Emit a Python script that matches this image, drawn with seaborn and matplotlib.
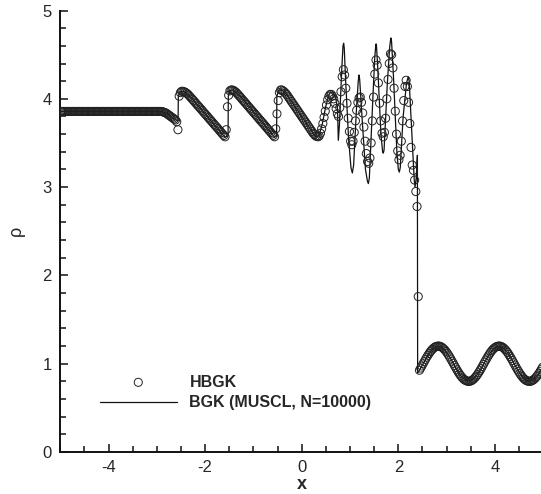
import numpy as np
import pandas as pd
import matplotlib
matplotlib.use("Agg")
import matplotlib.pyplot as plt
from matplotlib.ticker import MultipleLocator
import seaborn as sns

# ---- reference solution (BGK, MUSCL, N=10000) ----
bgk_x = [-5.0, -2.95, -2.85, -2.75, -2.68, -2.60, -2.56, -2.555, -2.53, -2.49,
         -2.43, -2.35, -2.28, -1.59, -1.525, -1.52, -1.49, -1.45, -1.40, -1.32,
         -1.25, -0.56, -0.52, -0.515, -0.48, -0.44, -0.38, -0.30, 0.25, 0.31,
         0.36, 0.42, 0.50, 0.56, 0.60, 0.65, 0.70, 0.74, 0.758, 0.78,
         0.83, 0.855, 0.868, 0.88, 0.91, 0.97, 1.02, 1.048, 1.075, 1.13,
         1.17, 1.186, 1.20, 1.25, 1.32, 1.36, 1.379, 1.40, 1.46, 1.51,
         1.535, 1.545, 1.57, 1.64, 1.675, 1.689, 1.705, 1.77, 1.82, 1.845,
         1.86, 1.90, 1.97, 2.00, 2.021, 2.04, 2.10, 2.17, 2.205, 2.225,
         2.29, 2.33, 2.346, 2.37, 2.395, 2.40, 2.45, 2.50, 2.60, 2.70,
         2.80, 2.90, 3.00, 3.10, 3.20, 3.30, 3.40, 3.50, 3.60, 3.70,
         3.80, 3.90, 4.00, 4.10, 4.20, 4.30, 4.40, 4.50, 4.60, 4.70,
         4.80, 4.90, 5.00]
bgk_rho = [3.857, 3.857, 3.85, 3.82, 3.79, 3.76, 3.75, 4.02, 4.07, 4.085,
           4.08, 4.05, 4.01, 3.565, 3.58, 4.03, 4.09, 4.10, 4.09, 4.05,
           4.02, 3.565, 3.58, 4.03, 4.09, 4.10, 4.09, 4.04, 3.60, 3.565,
           3.59, 3.70, 3.92, 4.04, 4.08, 4.06, 4.02, 3.90, 3.53, 3.70,
           4.35, 4.60, 4.63, 4.58, 4.20, 3.55, 3.22, 3.16, 3.25, 3.85,
           4.20, 4.27, 4.22, 3.78, 3.20, 3.07, 3.04, 3.10, 3.85, 4.45,
           4.62, 4.62, 4.40, 3.60, 3.40, 3.385, 3.42, 4.15, 4.58, 4.69,
           4.65, 4.25, 3.40, 3.20, 3.17, 3.22, 3.80, 4.18, 4.25, 4.20,
           3.50, 3.08, 3.00, 3.10, 3.36, 0.893, 0.938, 0.987, 1.084, 1.161,
           1.198, 1.187, 1.130, 1.041, 0.942, 0.858, 0.808, 0.805, 0.850, 0.931,
           1.030, 1.121, 1.183, 1.199, 1.167, 1.094, 0.998, 0.903, 0.831, 0.800,
           0.819, 0.882, 0.974]

# ---- HBGK solution, 400 uniform cells on [-5, 5] ----
n_cells = 400
hbgk_left = [3.857] * 84
hbgk_shocklets = [
    3.855, 3.85, 3.845, 3.84, 3.83, 3.82, 3.81, 3.80, 3.79, 3.78,
    3.77, 3.76, 3.74, 3.65, 4.03, 4.07, 4.085,
    4.085, 4.08, 4.075, 4.065, 4.055, 4.04, 4.025, 4.01,
    3.994, 3.979, 3.963, 3.947, 3.931, 3.916, 3.900, 3.884, 3.869, 3.853,
    3.837, 3.821, 3.806, 3.790, 3.774, 3.759, 3.743, 3.727, 3.711, 3.696,
    3.680, 3.664, 3.649, 3.633, 3.617, 3.60, 3.585, 3.57,
    3.65, 3.91, 4.04, 4.09, 4.10,
    4.10, 4.095, 4.085, 4.075, 4.06, 4.045, 4.03,
    4.014, 3.998, 3.982, 3.967, 3.951, 3.935, 3.919, 3.903, 3.887, 3.871,
    3.855, 3.840, 3.824, 3.808, 3.792, 3.776, 3.760, 3.744, 3.729, 3.713,
    3.697, 3.681, 3.665, 3.649, 3.633, 3.618, 3.602, 3.586, 3.57,
    3.66, 3.83, 3.98, 4.07, 4.10,
    4.10, 4.09, 4.08, 4.065, 4.05, 4.03,
    4.01, 3.99, 3.97, 3.95, 3.93, 3.91, 3.89, 3.87, 3.85, 3.83,
    3.81, 3.79, 3.77, 3.75, 3.73, 3.71, 3.69, 3.67, 3.65, 3.63,
    3.61, 3.595, 3.58, 3.575, 3.57]
hbgk_osc = [
    3.58, 3.61, 3.66, 3.72, 3.79, 3.86, 3.93, 3.99, 4.03, 4.05,
    4.05, 4.03, 4.00, 3.95, 3.89, 3.83, 3.80, 3.90, 4.08, 4.25,
    4.33, 4.27, 4.12, 3.95, 3.78, 3.63, 3.52, 3.48, 3.52, 3.62,
    3.75, 3.87, 3.96, 4.01, 4.02, 3.96, 3.84, 3.68, 3.52, 3.38,
    3.29, 3.27, 3.33, 3.50, 3.75, 4.02, 4.28, 4.44, 4.38, 4.18,
    3.95, 3.75, 3.61, 3.57, 3.62, 3.78, 4.00, 4.22, 4.40, 4.51,
    4.50, 4.35, 4.12, 3.86, 3.60, 3.41, 3.31, 3.36, 3.52, 3.75,
    3.98, 4.14, 4.21, 4.14, 3.96, 3.72, 3.45, 3.25, 3.19, 3.08,
    2.95, 2.78, 1.76]
hbgk_right = [
    0.926, 0.950, 0.974, 0.999, 1.024, 1.049, 1.073, 1.095, 1.116, 1.136,
    1.153, 1.168, 1.180, 1.190, 1.196, 1.199, 1.200, 1.197, 1.191, 1.182,
    1.170, 1.156, 1.139, 1.120, 1.099, 1.077, 1.053, 1.029, 1.004, 0.979,
    0.955, 0.931, 0.908, 0.886, 0.867, 0.849, 0.834, 0.821, 0.812, 0.805,
    0.801, 0.800, 0.802, 0.808, 0.816, 0.828, 0.842, 0.858, 0.877, 0.898,
    0.920, 0.943, 0.968, 0.993, 1.018, 1.042, 1.066, 1.089, 1.111, 1.131,
    1.149, 1.164, 1.177, 1.187, 1.195, 1.199, 1.200, 1.198, 1.193, 1.185,
    1.174, 1.160, 1.144, 1.126, 1.105, 1.083, 1.060, 1.036, 1.011, 0.986,
    0.961, 0.937, 0.914, 0.892, 0.872, 0.854, 0.838, 0.824, 0.814, 0.806,
    0.802, 0.800, 0.802, 0.806, 0.814, 0.824, 0.838, 0.854, 0.872, 0.892,
    0.914, 0.937, 0.961]

hbgk_rho = hbgk_left + hbgk_shocklets + hbgk_osc + hbgk_right
edges = np.linspace(-5.0, 5.0, n_cells + 1)
hbgk_x = 0.5 * (edges[:-1] + edges[1:])

hbgk = pd.DataFrame({"x": hbgk_x, "rho": hbgk_rho})
bgk = pd.DataFrame({"x": bgk_x, "rho": bgk_rho})

sns.set_style("ticks")
plt.rcParams["font.family"] = ["Liberation Sans", "DejaVu Sans"]
plt.rcParams["axes.unicode_minus"] = False

fig = plt.figure(figsize=(5.41, 4.94), dpi=100)
ax = fig.add_axes([0.1113, 0.085, 0.8928, 0.8937])

sns.lineplot(data=bgk, x="x", y="rho", sort=False, estimator=None,
             color="#111111", linewidth=0.9, ax=ax,
             label="BGK (MUSCL, N=10000)")
sns.scatterplot(data=hbgk, x="x", y="rho", marker="o", s=34,
                facecolor="none", edgecolor="#222222", linewidth=0.7,
                ax=ax, label="HBGK", zorder=3)

ax.set_xlim(-5, 5)
ax.set_ylim(0, 5)
ax.xaxis.set_major_locator(MultipleLocator(2))
ax.xaxis.set_minor_locator(MultipleLocator(0.5))
ax.yaxis.set_major_locator(MultipleLocator(1))
ax.yaxis.set_minor_locator(MultipleLocator(0.2))
ax.tick_params(which="both", direction="in", width=1.1, color="#111111",
               labelsize=12, pad=6)
ax.tick_params(which="major", length=6)
ax.tick_params(which="minor", length=4)
for side in ["top", "right"]:
    ax.spines[side].set_visible(False)
for side in ["left", "bottom"]:
    ax.spines[side].set_linewidth(1.4)
    ax.spines[side].set_color("#111111")

ax.set_xlabel("x", fontsize=13, fontweight="bold")
ax.set_ylabel("ρ", fontsize=13)
ax.xaxis.set_label_coords(0.5, -0.054)
ax.yaxis.set_label_coords(-0.074, 0.5)

handles, labels = ax.get_legend_handles_labels()
order = [labels.index("HBGK"), labels.index("BGK (MUSCL, N=10000)")]
leg = ax.legend([handles[i] for i in order], [labels[i] for i in order],
                loc="upper left", bbox_to_anchor=(0.170, 0.258),
                bbox_transform=fig.transFigure, frameon=False,
                handlelength=4.8, handletextpad=0.8, borderpad=0,
                labelspacing=0.35, prop={"size": 11.5, "weight": "bold"})

fig.savefig("out.png", dpi=100)
